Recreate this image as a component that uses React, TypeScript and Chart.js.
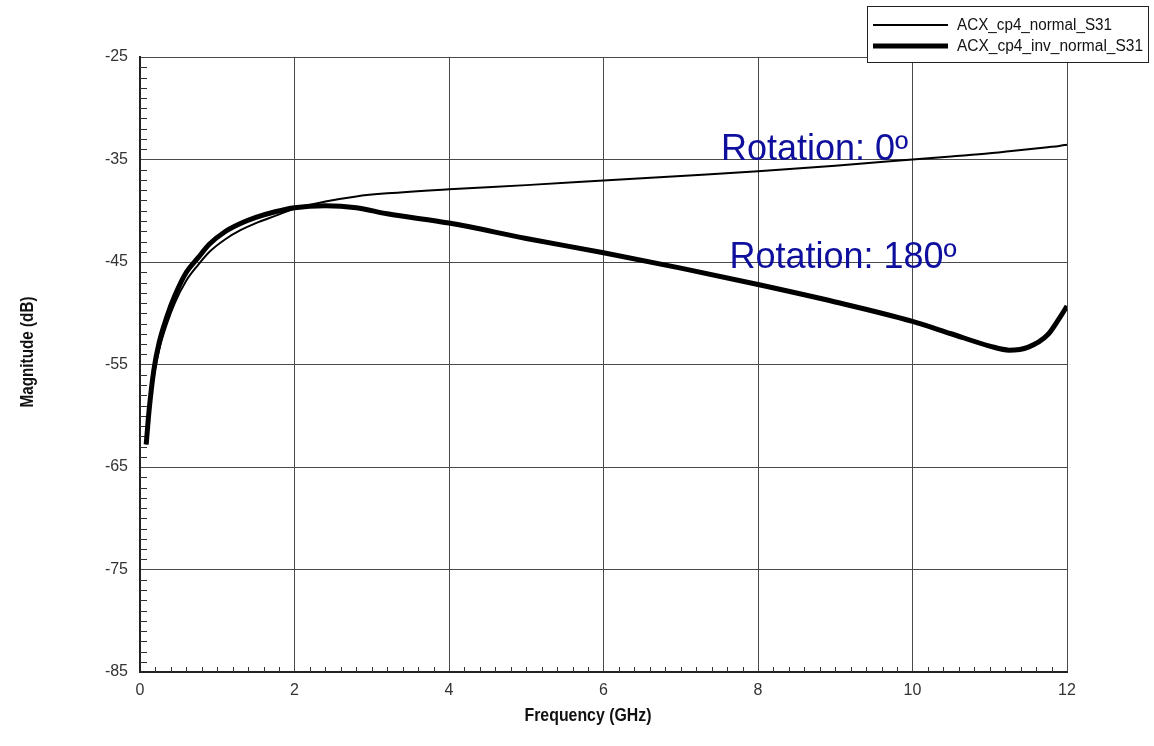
import { useEffect, useRef } from "react";
import { Chart, registerables } from "chart.js";

Chart.register(...registerables);

// ---- data ----
const freqGHz = [
  0.08, 0.12, 0.18, 0.25, 0.35, 0.45, 0.6, 0.75, 0.9, 1.1, 1.3, 1.5, 1.75, 2.0,
  2.4, 2.8, 3.2, 4.0, 5.0, 6.0, 7.0, 8.0, 9.0, 10.0, 10.5, 11.0, 11.25, 11.5,
  11.75, 11.9, 12.0,
];
const magNormal = [
  -62.8, -59.7, -56.1, -53.5, -51.0, -49.0, -46.8, -45.3, -44.0, -42.8, -41.9,
  -41.2, -40.5, -39.8, -39.1, -38.6, -38.3, -37.9, -37.5, -37.05, -36.6, -36.15,
  -35.6, -35.0, -34.7, -34.4, -34.2, -34.0, -33.8, -33.68, -33.55,
];
const magInvNormal = [
  -62.8, -59.3, -55.5, -52.8, -50.3, -48.3, -46.0, -44.6, -43.25, -42.05, -41.25,
  -40.65, -40.1, -39.7, -39.5, -39.7, -40.3, -41.2, -42.7, -44.1, -45.6, -47.2,
  -48.9, -50.8, -52.0, -53.2, -53.6, -53.3, -52.1, -50.5, -49.3,
];
const seriesNames = ["ACX_cp4_normal_S31", "ACX_cp4_inv_normal_S31"];
const yTickValues = [-85, -75, -65, -55, -45, -35, -25];
const xTickValues = [0, 2, 4, 6, 8, 10, 12];
const xTitle = "Frequency (GHz)";
const yTitle = "Magnitude (dB)";
const annotationTexts = ["Rotation: 0º", "Rotation: 180º"];

const SANS = '"Liberation Sans", Arial, sans-serif';

// draw text squeezed horizontally to a target width (narrow plotter font look)
function squeezedText(ctx: any, text: string, x: number, y: number, targetW: number, align: "left" | "center") {
  const w = ctx.measureText(text).width;
  const sx = Math.min(1, targetW / w);
  ctx.save();
  ctx.translate(x, y);
  ctx.scale(sx, 1);
  ctx.textAlign = align;
  ctx.fillText(text, 0, 0);
  ctx.restore();
}

const decorPlugin = {
  id: "decor",
  beforeDatasetsDraw(chart: any) {
    const { ctx, chartArea, scales } = chart;
    const xs = scales.x;
    const ys = scales.y;
    ctx.save();
    ctx.strokeStyle = "#333";
    ctx.lineWidth = 1;
    for (let v = -85; v <= -25; v += 1) {
      if (v % 10 === 5 || v % 10 === -5) continue;
      const py = Math.round(ys.getPixelForValue(v)) + 0.5;
      ctx.beginPath();
      ctx.moveTo(chartArea.left, py);
      ctx.lineTo(chartArea.left + 7, py);
      ctx.stroke();
    }
    for (let i = 0; i <= 60; i++) {
      if (i % 10 === 0) continue;
      const px = Math.round(xs.getPixelForValue(i * 0.2)) + 0.5;
      ctx.beginPath();
      ctx.moveTo(px, chartArea.bottom);
      ctx.lineTo(px, chartArea.bottom - 5);
      ctx.stroke();
    }
    ctx.restore();
  },
  afterDraw(chart: any) {
    const { ctx, scales } = chart;
    const xs = scales.x;
    const ys = scales.y;
    ctx.save();
    // axis titles
    ctx.fillStyle = "#111";
    ctx.font = `bold 18px ${SANS}`;
    ctx.textBaseline = "middle";
    squeezedText(ctx, xTitle, 588, 716, 127, "center");
    ctx.save();
    ctx.translate(28, 352);
    ctx.rotate(-Math.PI / 2);
    squeezedText(ctx, yTitle, 0, 0, 111, "center");
    ctx.restore();

    // annotations
    ctx.fillStyle = "#0f0f9e";
    ctx.font = `36px ${SANS}`;
    ctx.textAlign = "left";
    ctx.textBaseline = "alphabetic";
    ctx.fillText(annotationTexts[0], xs.getPixelForValue(7.52), ys.getPixelForValue(-35.0));
    ctx.fillText(annotationTexts[1], xs.getPixelForValue(7.63), ys.getPixelForValue(-45.55));

    // legend box
    ctx.fillStyle = "#fff";
    ctx.fillRect(867, 6, 282, 57);
    ctx.strokeStyle = "#222";
    ctx.lineWidth = 1;
    ctx.strokeRect(867.5, 6.5, 281, 56);
    const rows = [25, 46];
    const widths = [2, 5];
    const textW = [155, 186];
    ctx.font = `16px ${SANS}`;
    ctx.textBaseline = "middle";
    ctx.fillStyle = "#111";
    for (let i = 0; i < 2; i++) {
      ctx.strokeStyle = "#000";
      ctx.lineWidth = widths[i];
      ctx.beginPath();
      ctx.moveTo(873, rows[i]);
      ctx.lineTo(948, rows[i]);
      ctx.stroke();
      squeezedText(ctx, seriesNames[i], 957, rows[i] + 1, textW[i], "left");
    }
    ctx.restore();
  },
};

export default function App() {
  const canvasRef = useRef<HTMLCanvasElement | null>(null);

  useEffect(() => {
    const canvas = canvasRef.current;
    if (!canvas) return;
    const chart = new Chart(canvas, {
      type: "line",
      data: {
        datasets: [
          {
            label: seriesNames[0],
            data: freqGHz.map((f, i) => ({ x: f, y: magNormal[i] })),
            borderColor: "#000",
            borderWidth: 2,
            pointRadius: 0,
            fill: false,
            cubicInterpolationMode: "monotone",
          },
          {
            label: seriesNames[1],
            data: freqGHz.map((f, i) => ({ x: f, y: magInvNormal[i] })),
            borderColor: "#000",
            borderWidth: 5,
            pointRadius: 0,
            fill: false,
            cubicInterpolationMode: "monotone",
          },
        ],
      },
      options: {
        responsive: false,
        animation: false,
        layout: { padding: { top: 57, right: 87, left: 0, bottom: 0 } },
        plugins: {
          legend: { display: false },
          tooltip: { enabled: false },
          title: { display: false },
        },
        scales: {
          x: {
            type: "linear",
            min: 0,
            max: 12,
            afterBuildTicks: (s: any) => {
              s.ticks = xTickValues.map((v) => ({ value: v }));
            },
            afterFit: (s: any) => {
              s.height = 74;
            },
            ticks: {
              color: "#333",
              font: { family: SANS, size: 16 },
              padding: 9,
              maxRotation: 0,
              autoSkip: false,
            },
            grid: { color: "#4a4a4a", lineWidth: 1, drawTicks: false },
            border: { color: "#222", width: 2 },
          },
          y: {
            type: "linear",
            min: -85,
            max: -25,
            afterBuildTicks: (s: any) => {
              s.ticks = yTickValues.map((v) => ({ value: v }));
            },
            afterFit: (s: any) => {
              s.width = 140;
            },
            ticks: {
              color: "#333",
              font: { family: SANS, size: 16 },
              padding: 12,
              autoSkip: false,
            },
            grid: { color: "#4a4a4a", lineWidth: 1, drawTicks: false },
            border: { color: "#222", width: 2 },
          },
        },
      },
      plugins: [decorPlugin],
    });
    return () => chart.destroy();
  }, []);

  return (
    <div style={{ position: "absolute", left: 0, top: 0, width: 1154, height: 746, background: "#fff" }}>
      <canvas ref={canvasRef} width={1154} height={746} style={{ display: "block" }} />
    </div>
  );
}
